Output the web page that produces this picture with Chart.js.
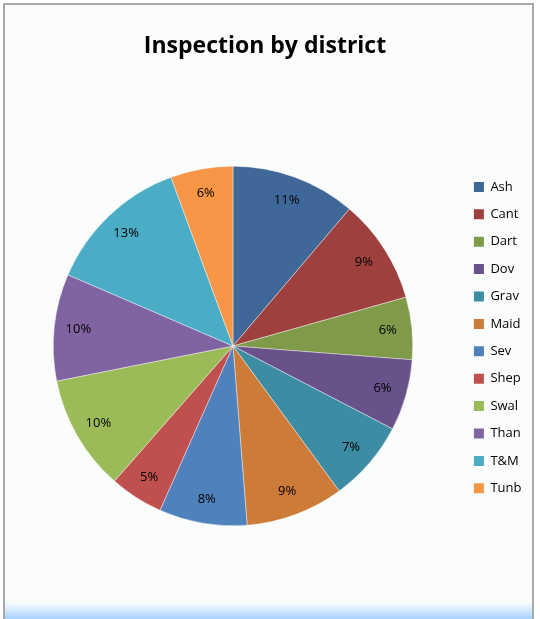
<!DOCTYPE html>
<html>
<head>
<meta charset="utf-8">
<script src="https://cdn.jsdelivr.net/npm/chart.js@4/dist/chart.umd.min.js"></script>
<style>
  body { margin: 0; background: #fff; }
  #frame {
    position: absolute; left: 3px; top: 3px; width: 527px; height: 620px;
    border: 2px solid #a9a9a9; border-bottom: none;
    background: linear-gradient(to bottom, #fbfdfd 0, #fbfdfd 597px, #e9f4ff 601px, #a6d2fe 614px);
  }
  #inspChart { position: absolute; left: 0; top: 0; }
</style>
</head>
<body>
<div id="frame"></div>
<canvas id="inspChart" width="540" height="619"></canvas>
<script>
const districts = ["Ash", "Cant", "Dart", "Dov", "Grav", "Maid", "Sev", "Shep", "Swal", "Than", "T&M", "Tunb"];
const inspections = [11.2, 9.4, 5.6, 6.4, 7.3, 8.8, 7.9, 4.8, 10.4, 9.6, 12.9, 5.6];
const sliceColours = ["#3f6797", "#9e413e", "#7f9a48", "#69518a", "#3c8da3", "#cc7b38",
                      "#4f81bd", "#c0504d", "#9bbb59", "#8064a2", "#4bacc6", "#f79646"];

const LEGEND_W = 64;       // legend box width used by the layout
const LEGEND_SHIFT = 46.5; // push legend items right, away from the pie

// percentage labels inside each slice
const sliceLabels = {
  id: "sliceLabels",
  afterDatasetsDraw(chart) {
    const ctx = chart.ctx;
    const values = chart.data.datasets[0].data;
    const total = values.reduce((a, b) => a + b, 0);
    ctx.save();
    ctx.font = "13px 'Open Sans'";
    ctx.fillStyle = "#000";
    ctx.textAlign = "center";
    ctx.textBaseline = "middle";
    chart.getDatasetMeta(0).data.forEach((arc, i) => {
      const p = arc.getProps(["x", "y", "startAngle", "endAngle", "outerRadius"], true);
      const mid = (p.startAngle + p.endAngle) / 2;
      const r = p.outerRadius * 0.865;
      ctx.fillText(Math.round(values[i] / total * 100) + "%", p.x + Math.cos(mid) * r, p.y + Math.sin(mid) * r);
    });
    ctx.restore();
  }
};

const legendPlace = {
  id: "legendPlace",
  beforeInit(chart) {
    const fit = chart.legend.fit;
    chart.legend.fit = function () {
      fit.call(this);
      this.width = LEGEND_W;
    };
  },
  afterLayout(chart) {
    chart.legend.left += LEGEND_SHIFT;
    chart.legend.right += LEGEND_SHIFT;
  }
};

new Chart(document.getElementById("inspChart").getContext("2d"), {
  type: "pie",
  data: {
    labels: districts,
    datasets: [{
      data: inspections,
      backgroundColor: sliceColours,
      borderColor: "rgba(255,255,255,0.8)",
      borderWidth: 0.5,
    }],
  },
  options: {
    responsive: false,
    animation: false,
    layout: { padding: { left: 53, right: 63, top: 0, bottom: 93 } },
    plugins: {
      title: {
        display: true,
        text: "Inspection by district",
        color: "#000",
        font: { family: "'Open Sans'", size: 23, weight: "bold" },
        padding: { top: 33, bottom: 105.4 },
      },
      legend: {
        position: "right",
        align: "start",
        fullSize: false,
        labels: {
          color: "#000",
          font: { family: "'Open Sans'", size: 13 },
          boxWidth: 10,
          boxHeight: 10,
          padding: 14.4,
          generateLabels(chart) {
            const items = Chart.overrides.pie.plugins.legend.labels.generateLabels(chart);
            items.forEach(it => { it.lineWidth = 0; });
            return items;
          },
        },
      },
      tooltip: { enabled: false },
    },
  },
  plugins: [sliceLabels, legendPlace],
});
</script>
</body>
</html>
